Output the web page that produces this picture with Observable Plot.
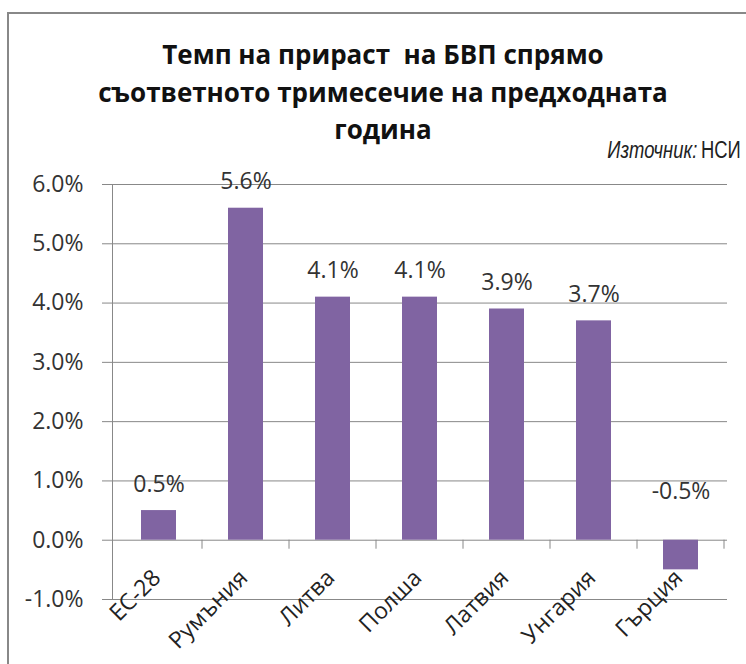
<!DOCTYPE html>
<html>
<head>
<meta charset="utf-8">
<script src="https://cdn.jsdelivr.net/npm/d3@7"></script>
<script src="https://cdn.jsdelivr.net/npm/@observablehq/plot@0.6"></script>
<style>
  html, body { margin: 0; padding: 0; background: #fff; }
  #wrap { position: relative; width: 746px; height: 664px; overflow: hidden; background: #fff; }
  #border { position: absolute; left: 7px; top: 12px; width: 800px; height: 800px; border-left: 2px solid #888; border-top: 2px solid #888; }
  #title { position: absolute; left: 83px; width: 600px; top: 36px; text-align: center; font-family: "Open Sans", sans-serif; font-weight: bold; font-size: 26px; line-height: 37.5px; color: #111; }
  #source { position: absolute; right: 5px; top: 137px; font-family: "Liberation Sans", sans-serif; font-size: 23px; color: #222; white-space: nowrap; transform: scaleX(0.8); transform-origin: right center; }
  #chart { position: absolute; left: 0; top: 0; }
</style>
</head>
<body>
<div id="wrap">
  <div id="border"></div>
  <div id="chart"></div>
  <div id="title">Темп на прираст&nbsp; на БВП спрямо<br>съответното тримесечие на предходната<br>година</div>
  <div id="source"><i>Източник:</i>&#8201;НСИ</div>
</div>
<script>
const categories = ["ЕС-28", "Румъния", "Литва", "Полша", "Латвия", "Унгария", "Гърция"];
const values = [0.5, 5.6, 4.1, 4.1, 3.9, 3.7, -0.5];
const yTicks = [-1, 0, 1, 2, 3, 4, 5, 6];

const data = categories.map((c, i) => ({category: c, value: values[i]}));
const fmt = v => v.toFixed(1) + "%";
const font = "Open Sans, sans-serif";

// tick marks at category boundaries on the zero line
const boundaryTicks = (index, scales) => {
  const x = scales.x, y = scales.y;
  const bw = x.bandwidth();
  const step = x.step();
  const g = d3.create("svg:g");
  const y0 = y(0);
  categories.forEach(c => {
    const xr = x(c) + bw / 2 + step / 2;
    g.append("line").attr("x1", xr).attr("x2", xr).attr("y1", y0).attr("y2", y0 + 9)
      .attr("stroke", "#888").attr("stroke-width", 1);
  });
  return g.node();
};

const chart = Plot.plot({
  width: 746,
  height: 664,
  marginLeft: 112,
  marginRight: 19,
  marginTop: 184,
  marginBottom: 65,
  style: {fontFamily: font, background: "transparent"},
  x: {domain: categories, paddingInner: 0.6, paddingOuter: 0.3, axis: null},
  y: {domain: [-1, 6], axis: null},
  marks: [
    Plot.ruleY(yTicks, {stroke: "#888", strokeWidth: 1, strokeOpacity: 1}),
    Plot.axisY(yTicks, {label: null, tickSize: 10, tickPadding: 19, tickFormat: fmt, fontSize: 23, stroke: "#888", color: "#333", fill: "#333"}),
    Plot.frame({anchor: "left", stroke: "#888"}),
    boundaryTicks,
    Plot.barY(data, {x: "category", y: "value", fill: "#8064A2"}),
    Plot.text(data.filter(d => d.value >= 0), {x: "category", y: "value", text: d => fmt(d.value), lineAnchor: "bottom", dy: -19, fontSize: 23, fill: "#333"}),
    Plot.text(data.filter(d => d.value < 0), {x: "category", y: 0, text: d => fmt(d.value), lineAnchor: "bottom", dy: -41, fontSize: 23, fill: "#333"}),
    Plot.text(data, {x: "category", y: 0, text: "category", rotate: -45, textAnchor: "end", lineAnchor: "bottom", dx: 3, dy: 39, fontSize: 23, fill: "#222"})
  ]
});
document.getElementById("chart").appendChild(chart);
</script>
</body>
</html>
